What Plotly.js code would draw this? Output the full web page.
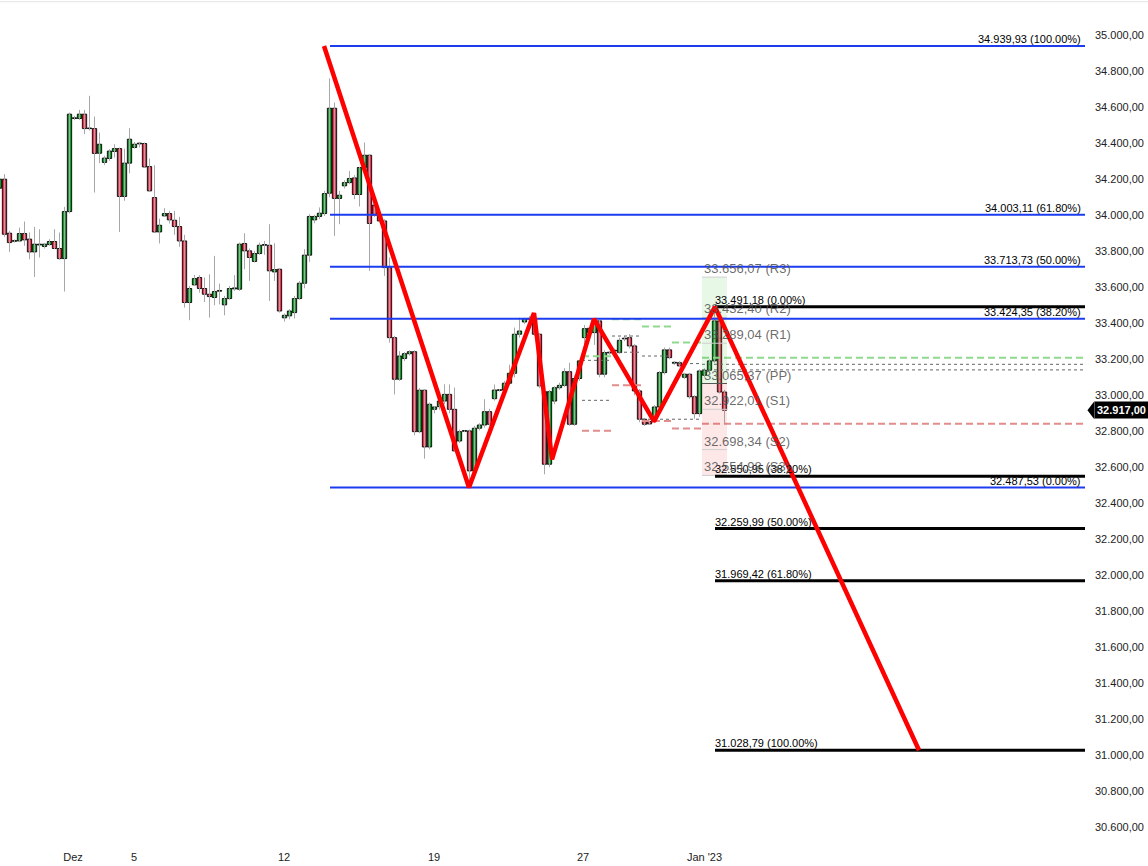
<!DOCTYPE html>
<html><head><meta charset="utf-8">
<script src="https://cdn.plot.ly/plotly-3.0.1.min.js"></script>
<style>html,body{margin:0;padding:0;background:#fff}#chart{width:1148px;height:866px}</style>
</head><body><div id="chart"></div><script>
// ---- candle data (4h candles, index -1 .. 144) ----
const firstIdx = -1;
const open  = [34150,34200,33900,33855,33857,33898,33867,33796,33835,33826,33837,33854,33815,33759,34020,34537,34537,34561,34481,34481,34344,34293,34315,34354,34370,34104,34289,34376,34396,34398,34270,34098,33907,33996,34009,33972,33937,33857,33515,33613,33654,33593,33561,33543,33578,33502,33537,33591,33589,33843,33802,33743,33787,33833,33833,33685,33700,33430,33441,33459,33537,33622,33778,33974,33993,34009,34122,34594,34093,34163,34181,34207,34115,34265,34333,34056,34000,33968,33709,33320,33089,33204,33231,33242,32798,33028,32713,32922,32937,32968,33005,32922,32746,32800,32802,32580,32817,32835,32909,32981,33027,33029,33067,33122,33339,33407,33423,33425,33339,33020,32617,32968,33042,33055,33131,32839,33093,33320,33348,33348,33413,33117,33235,33246,33237,33313,33320,33274,33024,32867,32854,32854,32935,33126,33252,33179,33181,33100,33117,32992,32898,33111,33139,33191,33413,33018];
const high  = [34230,34228,33913,33866,33931,33965,33904,33935,33922,33845,33867,33922,33904,34046,34570,34552,34585,34585,34663,34548,34459,34330,34367,34394,34376,34370,34483,34407,34407,34404,34315,34278,33981,34039,34024,34024,33991,33891,33607,33668,33667,33654,33672,33774,33620,33552,33607,33667,33848,33900,33815,33802,33848,33857,33950,33844,33705,33455,33478,33552,33635,33811,34006,34002,34043,34135,34760,34626,34135,34194,34246,34222,34268,34404,34340,34070,34010,33978,33765,33330,33245,33240,33250,33250,33040,33035,32960,32940,32990,33061,33061,33043,32810,32805,32810,32830,32845,32978,32925,33060,33035,33080,33170,33376,33431,33431,33440,33455,33345,33030,33030,33050,33070,33150,33180,33110,33195,33390,33380,33426,33420,33250,33245,33260,33320,33330,33340,33285,33035,32875,32860,32945,33135,33265,33265,33190,33190,33125,33125,33000,33145,33150,33200,33491.18,33420,33030];
const low   = [34100,33880,33796,33848,33850,33830,33755,33657,33765,33815,33830,33811,33752,33576,34010,34528,34528,34450,34470,34126,34289,34278,34302,34320,33907,34080,34233,34370,34376,34268,34135,33907,33843,33990,33954,33891,33824,33487,33417,33607,33570,33518,33431,33500,33505,33444,33530,33580,33580,33700,33635,33737,33780,33780,33524,33635,33459,33409,33422,33426,33530,33594,33741,33955,33978,33996,34100,33885,33950,34148,34172,34089,34048,34256,33691,33990,33960,33663,33292,33005,33080,33190,33220,32778,32790,32648,32700,32900,32920,32950,32900,32685,32735,32795,32500,32560,32805,32820,32830,32970,33020,33015,33055,33100,33320,33395,33410,33330,33040,32561,32600,32950,33030,33045,32830,32830,33080,33200,33330,33280,33100,33100,33225,33230,33230,33300,33260,33000,32850,32830,32835,32845,32925,33115,33200,33170,33155,33090,32980,32870,32880,33100,33130,33180,33010,32839];
const close = [34200,33894,33848,33859,33898,33863,33796,33839,33839,33839,33854,33815,33759,34020,34561,34541,34561,34481,34483,34343,34394,34317,34356,34370,34104,34289,34422,34394,34400,34268,34135,33907,33944,34009,33974,33937,33857,33515,33593,33648,33593,33561,33548,33576,33582,33537,33593,33596,33839,33802,33765,33787,33833,33837,33691,33698,33468,33444,33468,33537,33622,33778,33993,33993,34011,34120,34594,34093,34111,34181,34204,34115,34265,34333,33954,34000,33968,33709,33320,33089,33218,33231,33242,32798,33028,32713,32950,32935,32968,33005,32922,32691,32798,32804,32580,32817,32835,32909,32839,33029,33031,33067,33122,33339,33357,33425,33427,33339,33052,32617,33020,33042,33055,33131,32839,33093,33191,33370,33372,33413,33117,33237,33239,33250,33305,33317,33274,33024,32867,32839,32841,32935,33126,33252,33209,33183,33163,33117,32992,32898,33135,33139,33191,33413,33018,32917];
const lastPrice = 32917.00;

// ---- x-axis ticks (candle index) ----
const tickIdx  = [13.7, 25.9, 55.9, 85.9, 115.7, 140];
const tickText = ["Dez", "5", "12", "19", "27", "Jan '23"];

// ---- zigzag (index, value) ----
const zzIdx = [63.9, 92.9, 105.9, 109.5, 117.9, 129.9, 142.1, 182.9];
const zzVal = [34939.93, 32487.53, 33457, 32644, 33424, 32855, 33491.18, 31028.79];

// ---- blue retracement levels ----
const blueLevels = [34939.93, 34003.11, 33713.73, 33424.35, 32487.53];
const bluePct    = ["100.00%", "61.80%", "50.00%", "38.20%", "0.00%"];
const blueStart = 65.1, lineEnd = 216.1;

// ---- black extension levels ----
const blackLevels = [33491.18, 32550.95, 32259.99, 31969.42, 31028.79];
const blackPct    = ["0.00%", "38.20%", "50.00%", "61.80%", "100.00%"];
const blackStart = 142.1;

// ---- pivot points (current day) ----
const pivotNames  = ["R3", "R2", "R1", "PP", "S1", "S2", "S3"];
const pivotLevels = [33656.07, 33432.40, 33289.04, 33065.37, 32922.01, 32698.34, 32554.98];
const pivotStart = 139.5, pivotEnd = 144.5;

// ---- previous-day reference dashes per day ----
const dayStart = [115.5, 121.5, 127.5, 133.5, 139.5];
const dayEnd   = [121.5, 127.5, 133.5, 139.5, 216.1];
const dayHigh  = [33217, 33422, 33382, 33293, 33208.73];
const dayLow   = [32803, 33056, 32857, 32815, 32841.70];
const dayRefA  = [33194, 33329, 33218, 33176, 33172];
const dayRefB  = [32972, 33239, 32867, 32867, 33141];

const yMin = 30386, yMax = 35195;

function fmt(v){
  const s = v.toFixed(2).split('.');
  return s[0].replace(/\B(?=(\d{3})+(?!\d))/g, '.') + ',' + s[1];
}

const idx = open.map((_, i) => i + firstIdx);
const GREEN = '#129a2a', RED = '#ec3450';

// wicks
const wx = [], wy = [];
idx.forEach((k, i) => { wx.push(k, k, null); wy.push(low[i], high[i], null); });
const traces = [];
traces.push({type:'scatter', mode:'lines', x:wx, y:wy, line:{color:'#a8a8a8', width:1}, hoverinfo:'skip', showlegend:false});
// bodies
traces.push({type:'bar', x:idx, base:idx.map((k,i)=>Math.min(open[i],close[i])),
  y:idx.map((k,i)=>Math.max(Math.abs(close[i]-open[i]), 3)), width:0.86,
  marker:{color:idx.map((k,i)=>close[i]>=open[i]?GREEN:RED), line:{color:'#000', width:0.9}},
  hoverinfo:'skip', showlegend:false});

function segs(vals, starts, ends){
  const x=[], y=[];
  vals.forEach((v,i)=>{ x.push(starts[i], ends[i], null); y.push(v, v, null); });
  return {x, y};
}
// previous-day dashes
let s = segs(dayRefA, dayStart, dayEnd);
traces.push({type:'scatter', mode:'lines', x:s.x, y:s.y, line:{color:'#666', width:1, dash:'3px,3px'}, hoverinfo:'skip', showlegend:false});
s = segs(dayRefB, dayStart, dayEnd);
traces.push({type:'scatter', mode:'lines', x:s.x, y:s.y, line:{color:'#666', width:1, dash:'3px,3px'}, hoverinfo:'skip', showlegend:false});
s = segs(dayHigh, dayStart, dayEnd);
traces.push({type:'scatter', mode:'lines', x:s.x, y:s.y, line:{color:'#8fd98f', width:2, dash:'7px,4px'}, hoverinfo:'skip', showlegend:false});
s = segs(dayLow, dayStart, dayEnd);
traces.push({type:'scatter', mode:'lines', x:s.x, y:s.y, line:{color:'#e28c8c', width:2, dash:'7px,4px'}, hoverinfo:'skip', showlegend:false});

// pivot shading
const PP = pivotLevels[3];
traces.push({type:'scatter', mode:'lines', x:[pivotStart,pivotEnd,pivotEnd,pivotStart,pivotStart],
  y:[pivotLevels[0],pivotLevels[0],PP,PP,pivotLevels[0]], fill:'toself', fillcolor:'rgba(60,200,60,0.12)', line:{width:0}, hoverinfo:'skip', showlegend:false});
traces.push({type:'scatter', mode:'lines', x:[pivotStart,pivotEnd,pivotEnd,pivotStart,pivotStart],
  y:[PP,PP,pivotLevels[6],pivotLevels[6],PP], fill:'toself', fillcolor:'rgba(235,60,60,0.12)', line:{width:0}, hoverinfo:'skip', showlegend:false});
const ps = segs(pivotLevels, pivotLevels.map(()=>pivotStart), pivotLevels.map(()=>pivotEnd));
traces.push({type:'scatter', mode:'lines', x:ps.x, y:ps.y, line:{color:'#cfcfcf', width:1}, hoverinfo:'skip', showlegend:false});
traces.push({type:'scatter', mode:'lines', x:[pivotStart,pivotEnd], y:[PP,PP], line:{color:'#555', width:1}, hoverinfo:'skip', showlegend:false});

// blue lines
s = segs(blueLevels, blueLevels.map(()=>blueStart), blueLevels.map(()=>lineEnd));
traces.push({type:'scatter', mode:'lines', x:s.x, y:s.y, line:{color:'#1c3cf0', width:2}, hoverinfo:'skip', showlegend:false});
// black lines
s = segs(blackLevels, blackLevels.map(()=>blackStart), blackLevels.map(()=>lineEnd));
traces.push({type:'scatter', mode:'lines', x:s.x, y:s.y, line:{color:'#000', width:3}, hoverinfo:'skip', showlegend:false});
// zigzag
traces.push({type:'scatter', mode:'lines', x:zzIdx, y:zzVal, line:{color:'#ff0000', width:4.5}, hoverinfo:'skip', showlegend:false});

const ann = [];
const FONT = 'Liberation Sans, Arial, sans-serif';
blueLevels.forEach((v,i)=>ann.push({x:215.4, y:v, xref:'x', yref:'y', xanchor:'right', yanchor:'bottom', showarrow:false,
  text:fmt(v)+' ('+bluePct[i]+')', font:{family:FONT, size:11, color:'#000'}, borderpad:0}));
blackLevels.forEach((v,i)=>ann.push({x:141.8, y:v, xref:'x', yref:'y', xanchor:'left', yanchor:'bottom', showarrow:false,
  text:fmt(v)+' ('+blackPct[i]+')', font:{family:FONT, size:11, color:'#000'}, borderpad:0}));
pivotLevels.forEach((v,i)=>ann.push({x:139.6, y:v, xref:'x', yref:'y', xanchor:'left', yanchor:'bottom', showarrow:false,
  text:fmt(v)+' ('+pivotNames[i]+')', font:{family:FONT, size:13, color:'rgba(80,80,80,0.85)'}, borderpad:0}));
ann.push({x:1, xref:'paper', y:lastPrice, yref:'y', xanchor:'left', yanchor:'middle', xshift:6, showarrow:false,
  text:'<b>'+fmt(lastPrice)+'</b>', font:{family:FONT, size:11, color:'#fff'}, bgcolor:'#000', borderpad:2});

const py = v => (v - yMin)/(yMax - yMin);
const layout = {
  width:1148, height:866, margin:{l:0, r:60, t:0, b:0},
  paper_bgcolor:'#fff', plot_bgcolor:'#fff', separators:',.', hovermode:false, showlegend:false, barmode:'overlay',
  xaxis:{range:[-0.9, 216.7], showgrid:false, zeroline:false, showline:false, tickvals:tickIdx, ticktext:tickText,
    ticklabelposition:'inside', ticks:'', tickfont:{family:'Liberation Sans Narrow, Arial Narrow, Liberation Sans, Arial', size:11, color:'#222'}, fixedrange:true},
  yaxis:{side:'right', range:[yMin, yMax], dtick:200, tick0:0, tickformat:',.2f', showgrid:false, zeroline:false, showline:false,
    ticks:'', ticklabelstandoff:6, tickfont:{family:FONT, size:11, color:'#222'}, fixedrange:true},
  annotations:ann,
  shapes:[
    {type:'line', xref:'paper', yref:'paper', x0:0, x1:1.06, y0:0.998, y1:0.998, line:{color:'#e4e4e4', width:1}},
    {type:'path', xref:'paper', yref:'paper', path:'M 0.9995 '+py(lastPrice)+' L 1.0058 '+py(lastPrice+50)+' L 1.0058 '+py(lastPrice-50)+' Z', fillcolor:'#000', line:{width:0}}
  ]
};
Plotly.newPlot('chart', traces, layout, {displayModeBar:false, staticPlot:true});
</script></body></html>
